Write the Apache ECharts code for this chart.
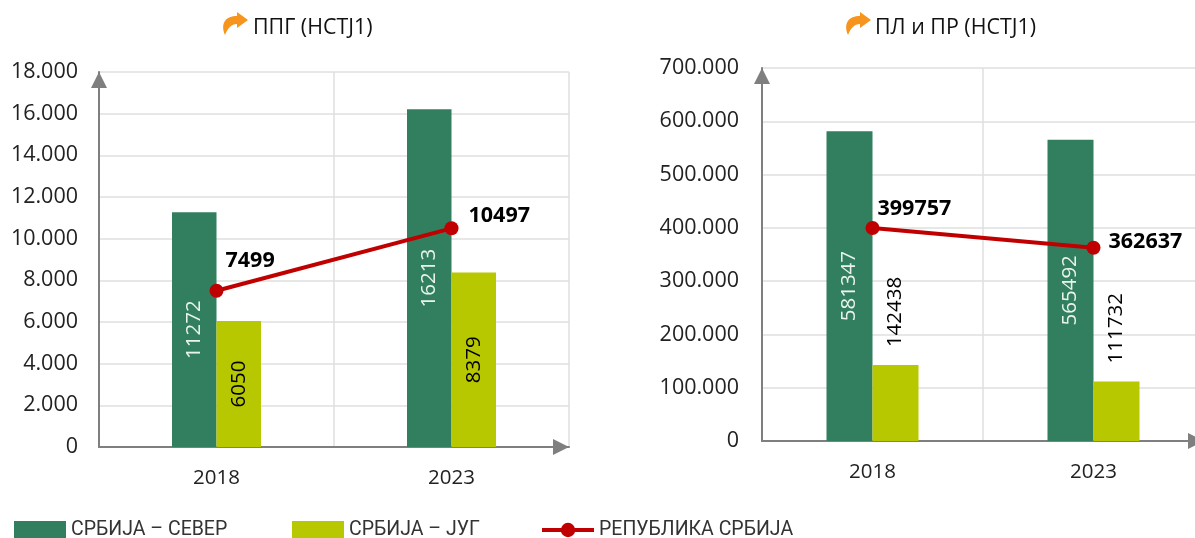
<!DOCTYPE html>
<html><head><meta charset="utf-8">
<style>html,body{margin:0;padding:0;background:#fff}#c{width:1195px;height:538px}</style>
<script src="https://cdn.jsdelivr.net/npm/echarts@6/dist/echarts.min.js"></script>
</head><body><div id="c"></div>
<script>
const years = ['2018', '2023'];
const northLeft = [11272, 16213];
const southLeft = [6050, 8379];
const serbiaLeft = [7499, 10497];
const northRight = [581347, 565492];
const southRight = [142438, 111732];
const serbiaRight = [399757, 362637];
const titleLeft = 'ППГ (НСТЈ1)';
const titleRight = 'ПЛ и ПР (НСТЈ1)';
const nameNorth = 'СРБИЈА – СЕВЕР';
const nameSouth = 'СРБИЈА – ЈУГ';
const nameSerbia = 'РЕПУБЛИКА СРБИЈА';

const FONT = '"Open Sans"';
const GREEN = '#317F5E', OLIVE = '#B7C800', RED = '#C00000', GREY = '#7F7F7F', GRID = '#DFDFDF', TXT = '#222';
const fmt = v => String(v).replace(/\B(?=(\d{3})+(?!\d))/g, '.');

echarts.graphic.registerShape('turnArrow', echarts.graphic.extendShape({
  shape: { x: 0, y: 0 },
  buildPath(ctx, s) {
    const X = s.x, Y = s.y;
    ctx.moveTo(X + 2, Y + 23);
    ctx.bezierCurveTo(X - 3, Y + 11, X + 3, Y + 4, X + 14, Y + 4);
    ctx.lineTo(X + 14, Y);
    ctx.lineTo(X + 25, Y + 8);
    ctx.lineTo(X + 14, Y + 16);
    ctx.lineTo(X + 14, Y + 12);
    ctx.bezierCurveTo(X + 8, Y + 12, X + 5, Y + 16, X + 2, Y + 23);
    ctx.closePath();
  }
}));

function xAxis(i) {
  return { type: 'category', gridIndex: i, data: years,
    axisLine: { show: true, onZero: false, lineStyle: { color: GREY, width: 2 }, symbol: ['none', 'triangle'], symbolSize: [16, 16], symbolOffset: [0, -8] },
    axisTick: { show: false },
    axisLabel: { color: TXT, fontFamily: FONT, fontSize: 20.5, margin: 21 },
    splitLine: { show: true, lineStyle: { color: GRID, width: 1.5 } } };
}
function yAxis(i, max, interval) {
  return { type: 'value', gridIndex: i, min: 0, max, interval,
    axisLine: { show: true, lineStyle: { color: GREY, width: 2 }, symbol: ['none', 'triangle'], symbolSize: [16, 16], symbolOffset: [0, -8] },
    axisTick: { show: false },
    axisLabel: { color: TXT, fontFamily: FONT, fontSize: 21.5, margin: i ? 23 : 21, formatter: fmt },
    splitLine: { show: true, lineStyle: { color: GRID, width: 1.5 } } };
}
function bar(i, name, data, color, width, label) {
  return { type: 'bar', name, xAxisIndex: i, yAxisIndex: i, data, barWidth: width, barGap: 0, z: 2,
    itemStyle: { color },
    label: Object.assign({ show: true, rotate: 90, fontFamily: FONT, fontSize: 20.5, align: 'center', verticalAlign: 'middle' }, label) };
}
function line(i, data, offsets) {
  return { type: 'line', name: nameSerbia, xAxisIndex: i, yAxisIndex: i, z: 5, symbol: 'circle', symbolSize: 14,
    lineStyle: { color: RED, width: 4 }, itemStyle: { color: RED },
    data: data.map((value, k) => ({ value, label: { offset: offsets[k] } })),
    label: { show: true, position: 'right', distance: 0, fontFamily: FONT, fontSize: 21.5, fontWeight: 'bold', color: '#000' } };
}
function legend(left, item) {
  return { left, top: 520, itemWidth: 52, itemHeight: 18, itemSymbolSize: 13, padding: 0, data: [item],
    textStyle: { fontFamily: 'Roboto', fontSize: 19.5, color: '#333' } };
}
const chart = echarts.init(document.getElementById('c'), null, { renderer: 'canvas' });
chart.setOption({
  animation: false, backgroundColor: '#fff',
  title: [
    { text: titleLeft, left: 248, top: 12, textStyle: { fontFamily: FONT, fontSize: 21.4, fontWeight: 'normal', color: '#111' } },
    { text: titleRight, left: 870, top: 12, textStyle: { fontFamily: FONT, fontSize: 21.4, fontWeight: 'normal', color: '#111' } }
  ],
  grid: [
    { left: 99, top: 72, width: 470, height: 375, outerBoundsMode: 'none' },
    { left: 762, top: 68, width: 442, height: 373, outerBoundsMode: 'none' }
  ],
  xAxis: [xAxis(0), xAxis(1)],
  yAxis: [yAxis(0, 18000, 2000), yAxis(1, 700000, 100000)],
  legend: [
    legend(14, { name: nameNorth, icon: 'rect' }),
    legend(292, { name: nameSouth, icon: 'rect' }),
    legend(540, { name: nameSerbia, lineStyle: { width: 4 } })
  ],
  series: [
    bar(0, nameNorth, northLeft, GREEN, 44.5, { position: 'inside', color: '#E8F3EE' }),
    bar(0, nameSouth, southLeft, OLIVE, 44.5, { position: 'inside', color: '#000' }),
    line(0, serbiaLeft, [[2, -30], [10, -12]]),
    bar(1, nameNorth, northRight, GREEN, 46, { position: 'inside', color: '#E8F3EE' }),
    bar(1, nameSouth, southRight, OLIVE, 46, { position: 'top', distance: 18, color: '#000', align: 'left' }),
    line(1, serbiaRight, [[-2, -19], [8, -6]])
  ],
  graphic: [
    { type: 'turnArrow', shape: { x: 223, y: 12 }, style: { fill: '#F7941D' } },
    { type: 'turnArrow', shape: { x: 846, y: 12 }, style: { fill: '#F7941D' } }
  ]
});
</script></body></html>
